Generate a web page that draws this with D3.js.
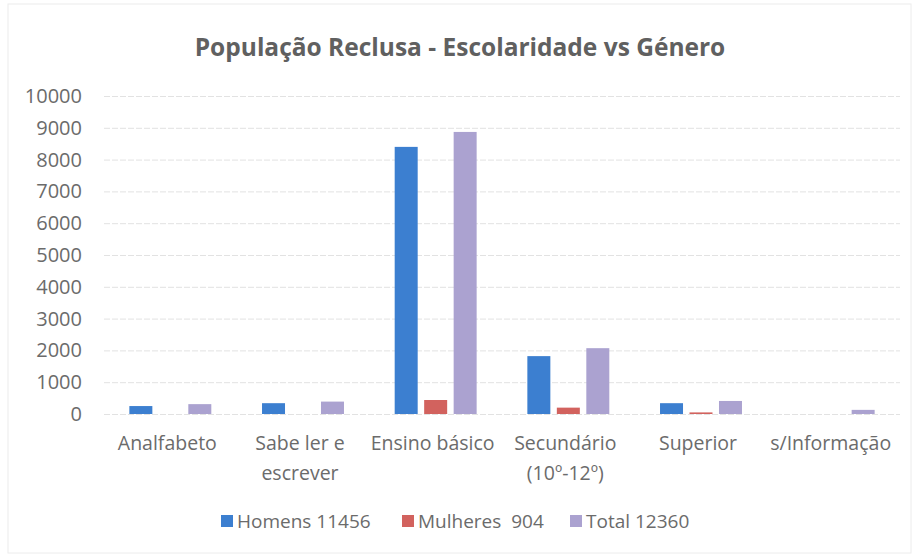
<!DOCTYPE html>
<html>
<head>
<meta charset="utf-8">
<script src="https://cdn.jsdelivr.net/npm/d3@7"></script>
<style>
  body { margin: 0; background: #fff; }
  text { font-family: "Open Sans", Lato, sans-serif; }
</style>
</head>
<body>
<svg id="chart"></svg>
<script>
// Chart values
const categories = [["Analfabeto"], ["Sabe ler e", "escrever"], ["Ensino básico"], ["Secundário", "(10º-12º)"], ["Superior"], ["s/Informação"]];
const seriesNames = ["Homens 11456", "Mulheres  904", "Total 12360"];
const homens = [250, 340, 8400, 1820, 340, 0];
const mulheres = [0, 0, 440, 200, 50, 0];
const total = [310, 390, 8870, 2070, 410, 130];
const yTicks = [0, 1000, 2000, 3000, 4000, 5000, 6000, 7000, 8000, 9000, 10000];
const colors = ["#3c7fd0", "#d2625e", "#aba2d0"];

const width = 917, height = 557;
const margin = { left: 104, right: 17, top: 96, bottom: 143 };

const svg = d3.select("#chart")
  .attr("width", width)
  .attr("height", height);

// faint frame around the chart
svg.append("rect")
  .attr("x", 8).attr("y", 4)
  .attr("width", width - 14).attr("height", height - 8)
  .attr("fill", "none")
  .attr("stroke", "#ececec");

const x = d3.scaleBand()
  .domain(d3.range(categories.length))
  .range([margin.left, width - margin.right]);

const x1 = d3.scaleBand()
  .domain(d3.range(3))
  .range([0, x.bandwidth()])
  .paddingInner(0.22)
  .paddingOuter(0.86);

const y = d3.scaleLinear()
  .domain([0, 10000])
  .range([height - margin.bottom, margin.top]);

// gridlines + y labels
const yAxis = svg.append("g")
  .attr("transform", `translate(${margin.left},0)`)
  .call(d3.axisLeft(y).tickValues(yTicks).tickFormat(d3.format("d"))
    .tickSize(-(width - margin.left - margin.right)).tickPadding(22));
yAxis.select(".domain").remove();
yAxis.selectAll(".tick line").attr("stroke", "#e2e2e2").attr("stroke-dasharray", "6,2");
yAxis.selectAll(".tick text")
  .attr("fill", "#6b6b6b")
  .style("font-size", "20px");

// bars
const rows = categories.map((c, i) => [homens[i], mulheres[i], total[i]]);
const groups = svg.append("g").selectAll("g")
  .data(rows)
  .join("g")
  .attr("transform", (d, i) => `translate(${x(i)},0)`);

groups.selectAll("rect")
  .data(d => d)
  .join("rect")
  .attr("x", (d, j) => x1(j))
  .attr("width", x1.bandwidth())
  .attr("y", d => y(d))
  .attr("height", d => y(0) - y(d))
  .attr("fill", (d, j) => colors[j]);

// x labels
const xLabels = svg.append("g").selectAll("text")
  .data(categories)
  .join("text")
  .attr("x", (d, i) => x(i) + x.bandwidth() / 2 - 3)
  .attr("y", y(0) + 36)
  .attr("text-anchor", "middle")
  .attr("fill", "#6b6b6b")
  .style("font-size", "19.5px");
xLabels.selectAll("tspan")
  .data(d => d)
  .join("tspan")
  .attr("x", function () { return this.parentNode.getAttribute("x"); })
  .attr("dy", (d, k) => k === 0 ? 0 : 30)
  .text(d => d);

// title
svg.append("text")
  .attr("x", 460)
  .attr("y", 56)
  .attr("text-anchor", "middle")
  .attr("fill", "#606060")
  .style("font-size", "24.5px")
  .style("font-weight", "bold")
  .text("População Reclusa - Escolaridade vs Género");

// legend
const legendX = [221, 402, 570];
const legend = svg.append("g").selectAll("g")
  .data(seriesNames)
  .join("g")
  .attr("transform", (d, i) => `translate(${legendX[i]},528)`);
legend.append("rect")
  .attr("x", 0).attr("y", -13)
  .attr("width", 12).attr("height", 12)
  .attr("fill", (d, i) => colors[i]);
legend.append("text")
  .attr("x", 16)
  .attr("y", 0)
  .attr("fill", "#6b6b6b")
  .style("font-size", "19px")
  .style("white-space", "pre")
  .text(d => d);
</script>
</body>
</html>
